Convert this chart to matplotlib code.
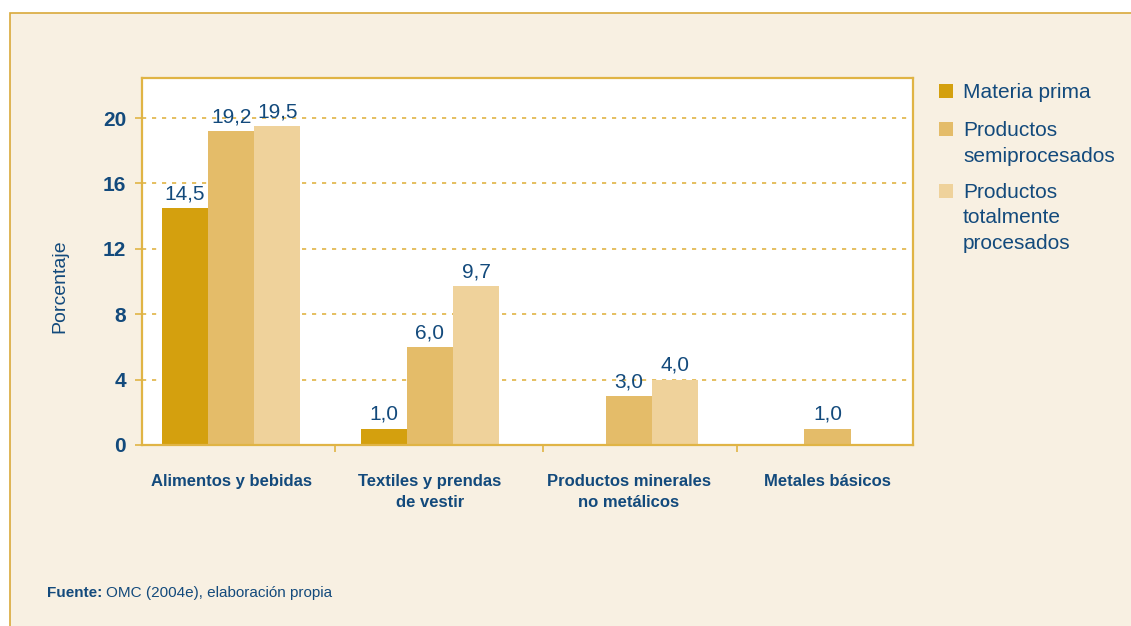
import matplotlib
matplotlib.use("Agg")
import matplotlib.pyplot as plt
import matplotlib.patches as patches
import numpy as np

plt.rcParams['font.family'] = ['Liberation Sans', 'DejaVu Sans']

categories = ["Alimentos y bebidas", "Textiles y prendas\nde vestir",
              "Productos minerales\nno metálicos", "Metales básicos"]
series_names = ["Materia prima", "Productos\nsemiprocesados",
                "Productos\ntotalmente\nprocesados"]
materia_prima = [14.5, 1.0, 0.0, 0.0]
semiprocesados = [19.2, 6.0, 3.0, 1.0]
totalmente = [19.5, 9.7, 4.0, 0.0]
yticks = [0, 4, 8, 12, 16, 20]

TEXT = "#134a7c"
GOLD = "#e0b445"
colors = ["#d4a00e", "#e4bc69", "#efd29b"]

W, H = 1131, 626
fig = plt.figure(figsize=(W / 100, H / 100), dpi=100, facecolor="white")
# cream panel with gold border on left/top
panel = patches.Rectangle((10 / W, -0.1), 1.2, (H - 13) / H + 0.1,
                          transform=fig.transFigure, facecolor="#f8f0e2",
                          edgecolor="#d9a93a", linewidth=1.2, zorder=-10)
fig.patches.append(panel)

ax = fig.add_axes([142 / W, 1 - 445 / H, (913 - 142) / W, (445 - 78) / H])
ax.set_facecolor("white")
ax.set_zorder(1)

x = np.arange(len(categories))
w = 0.232
series = [materia_prima, semiprocesados, totalmente]
for i, (vals, c) in enumerate(zip(series, colors)):
    pos = x + (i - 1) * w
    ax.bar(pos, vals, width=w, color=c, zorder=2)
    for xp, v in zip(pos, vals):
        if v > 0:
            ax.text(xp, v + 0.3, f"{v:.1f}".replace(".", ","), ha="center",
                    va="bottom", color=TEXT, fontsize=15)

ax.set_xlim(-0.448, 3.43)
ax.set_ylim(0, 22.45)
ax.set_yticks(yticks)
ax.set_yticklabels([str(t) for t in yticks], fontweight="bold", fontsize=15, color=TEXT)
for t in yticks[1:]:
    ax.axhline(t, color=GOLD, linestyle=(0, (2.5, 3.5)), linewidth=1.2, zorder=1)

ax.set_xticks(x)
ax.set_xticklabels(categories, fontweight="bold", fontsize=12, color=TEXT,
                   linespacing=1.5)
ax.tick_params(axis="x", length=0, pad=21)
ax.set_xticks([0.523, 1.57, 2.547], minor=True)
ax.tick_params(axis="x", which="minor", length=5, color=GOLD, width=1.2, direction="out")
ax.tick_params(axis="y", length=5, color=GOLD, width=1.2, pad=6.5)

for s in ax.spines.values():
    s.set_color(GOLD)
    s.set_linewidth(1.6)

ax.set_ylabel("Porcentaje", color=TEXT, fontsize=14)
ax.yaxis.set_label_coords(-0.096, 0.433)

# legend drawn by hand so the squares line up with the first text line
leg_baselines = [98, 136, 198]
line_step = 25.5
for name, c, yb in zip(series_names, colors, leg_baselines):
    fig.patches.append(patches.Rectangle((939 / W, 1 - yb / H), 14 / W, 14 / H,
                                         transform=fig.transFigure, facecolor=c,
                                         edgecolor="none"))
    n_lines = name.count("\n")
    # baseline alignment refers to the last line of a multi-line text
    fig.text(963 / W, 1 - (yb + n_lines * line_step) / H, name, fontsize=15,
             color=TEXT, va="baseline", ha="left", linespacing=1.45)

fig.text(47 / W, 1 - 593 / H, "Fuente:", fontweight="bold", fontsize=11,
         color=TEXT, va="center")
fig.text(106 / W, 1 - 593 / H, "OMC (2004e), elaboración propia", fontsize=11,
         color=TEXT, va="center")

fig.savefig("out.png", dpi=100, facecolor=fig.get_facecolor())
